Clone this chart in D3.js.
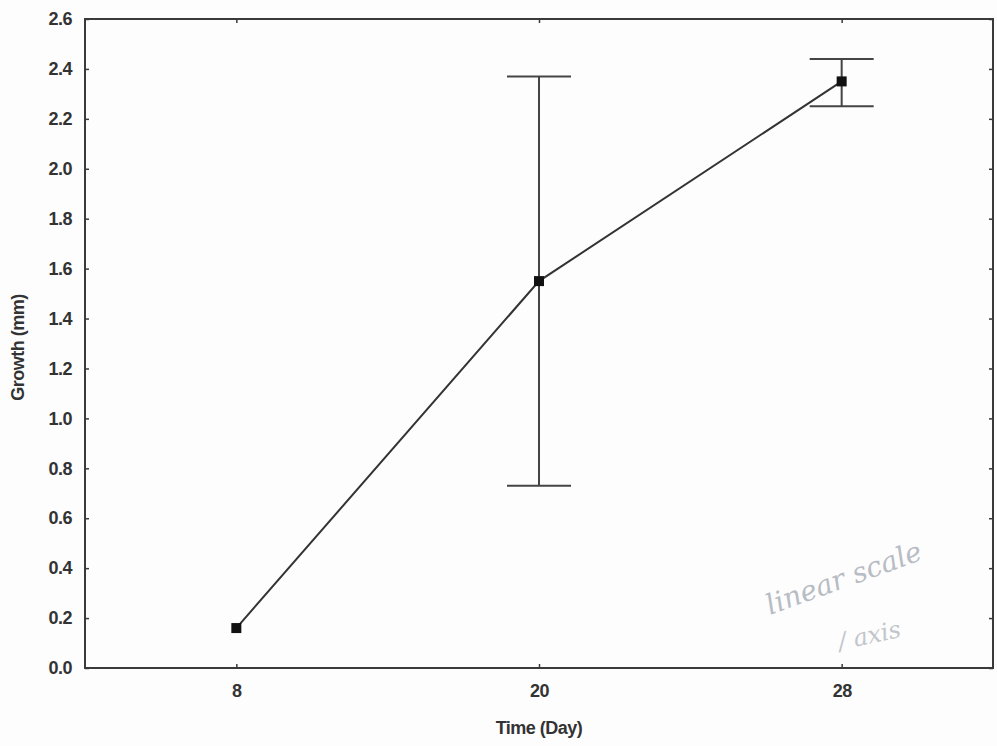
<!DOCTYPE html>
<html>
<head>
<meta charset="utf-8">
<script src="https://cdn.jsdelivr.net/npm/d3@7"></script>
<style>
  body { margin: 0; background: #fdfdfd; }
  svg { display: block; }
</style>
</head>
<body>
<script>
// data
const days = ["8", "20", "28"];
const growth = [0.16, 1.55, 2.35];
const errLow = [null, 0.73, 2.25];
const errHigh = [null, 2.37, 2.44];
const yTicks = [0, 0.2, 0.4, 0.6, 0.8, 1.0, 1.2, 1.4, 1.6, 1.8, 2.0, 2.2, 2.4, 2.6];

const width = 997, height = 746;
const margin = {top: 19, right: 4, bottom: 78, left: 85};

const svg = d3.select("body").append("svg")
    .attr("width", width)
    .attr("height", height);

const x = d3.scalePoint()
    .domain(days)
    .range([margin.left, width - margin.right])
    .padding(0.5);

const y = d3.scaleLinear()
    .domain([0, 2.6])
    .range([height - margin.bottom, margin.top]);

const ink = "#3a3a3a";
const font = "Liberation Sans, Arial, sans-serif";

// faint pencil note in the corner
svg.append("text")
    .attr("transform", "translate(770,615) rotate(-20)")
    .attr("font-family", "DejaVu Serif, serif")
    .attr("font-style", "italic")
    .attr("font-size", 28)
    .attr("fill", "#b8bcc4")
    .text("linear scale");
svg.append("text")
    .attr("transform", "translate(840,650) rotate(-12)")
    .attr("font-family", "DejaVu Serif, serif")
    .attr("font-style", "italic")
    .attr("font-size", 24)
    .attr("fill", "#c2c6cc")
    .text("/ axis");

// frame
svg.append("rect")
    .attr("x", margin.left)
    .attr("y", margin.top)
    .attr("width", width - margin.right - margin.left)
    .attr("height", height - margin.bottom - margin.top)
    .attr("fill", "none")
    .attr("stroke", ink)
    .attr("stroke-width", 2);

// axes, ticks pointing inward
const yAxis = svg.append("g")
    .attr("transform", `translate(${margin.left},0)`)
    .call(d3.axisLeft(y).tickValues(yTicks).tickFormat(d3.format(".1f")).tickSizeInner(-4).tickSizeOuter(0).tickPadding(13));

const yRight = svg.append("g")
    .attr("transform", `translate(${width - margin.right},0)`)
    .call(d3.axisRight(y).tickValues(yTicks).tickFormat("").tickSizeInner(-4).tickSizeOuter(0));

const xAxis = svg.append("g")
    .attr("transform", `translate(0,${height - margin.bottom})`)
    .call(d3.axisBottom(x).tickSizeInner(-4).tickSizeOuter(0).tickPadding(16));

const xTop = svg.append("g")
    .attr("transform", `translate(0,${margin.top})`)
    .call(d3.axisTop(x).tickFormat("").tickSizeInner(-4).tickSizeOuter(0));

[yAxis, yRight, xAxis, xTop].forEach(g => {
    g.select(".domain").remove();
    g.selectAll("line").attr("stroke", ink).attr("stroke-width", 1.5);
    g.selectAll("text")
        .attr("font-family", font)
        .attr("font-weight", "bold")
        .attr("font-size", 18)
        .attr("letter-spacing", -0.5)
        .attr("fill", "#333");
});

// axis titles
svg.append("text")
    .attr("x", x("20"))
    .attr("y", 734)
    .attr("text-anchor", "middle")
    .attr("font-family", font)
    .attr("font-weight", "bold")
    .attr("font-size", 18)
    .attr("letter-spacing", -0.5)
    .attr("fill", "#333")
    .text("Time (Day)");

svg.append("text")
    .attr("transform", `translate(24,${(margin.top + height - margin.bottom) / 2 + 4}) rotate(-90)`)
    .attr("text-anchor", "middle")
    .attr("font-family", font)
    .attr("font-weight", "bold")
    .attr("font-size", 18)
    .attr("letter-spacing", -0.5)
    .attr("fill", "#333")
    .text("Growth (mm)");

// error bars
const capHalf = 32;
days.forEach((d, i) => {
    if (errLow[i] == null) return;
    const cx = x(d);
    const g = svg.append("g").attr("stroke", "#444").attr("stroke-width", 2);
    g.append("line").attr("x1", cx).attr("x2", cx).attr("y1", y(errLow[i])).attr("y2", y(errHigh[i]));
    g.append("line").attr("x1", cx - capHalf).attr("x2", cx + capHalf).attr("y1", y(errLow[i])).attr("y2", y(errLow[i]));
    g.append("line").attr("x1", cx - capHalf).attr("x2", cx + capHalf).attr("y1", y(errHigh[i])).attr("y2", y(errHigh[i]));
});

// mean line
svg.append("path")
    .datum(growth)
    .attr("fill", "none")
    .attr("stroke", "#333")
    .attr("stroke-width", 2)
    .attr("d", d3.line().x((d, i) => x(days[i])).y(d => y(d)));

// square markers
svg.selectAll("rect.pt")
    .data(growth)
    .enter().append("rect")
    .attr("class", "pt")
    .attr("x", (d, i) => x(days[i]) - 5)
    .attr("y", d => y(d) - 5)
    .attr("width", 10)
    .attr("height", 10)
    .attr("fill", "#111");
</script>
</body>
</html>
